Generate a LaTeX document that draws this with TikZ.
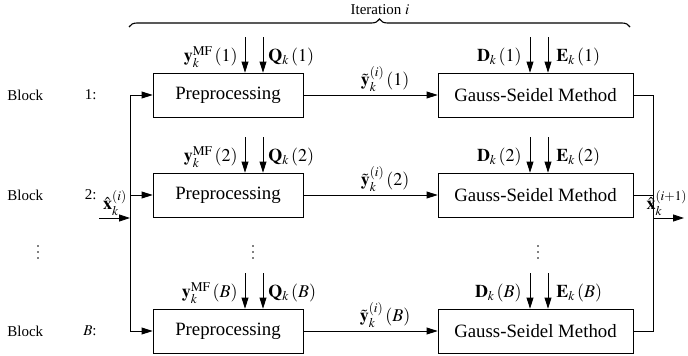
\documentclass[tikz,border=0pt]{standalone}
\usepackage{mathptmx}
\usepackage{fontspec}
\setmainfont{Liberation Serif}
\usetikzlibrary{arrows.meta,decorations.pathreplacing}
\begin{document}
\begin{tikzpicture}[x=1pt,y=-1pt,
  line width=0.8pt,
  box/.style={draw, line width=0.8pt, minimum height=44pt, inner sep=0pt,
    font=\fontsize{18.8}{22}\selectfont},
  pbox/.style={box, minimum width=150pt},
  gbox/.style={box, minimum width=195pt},
  arr/.style={-{Triangle[length=11pt,width=7pt]}, line width=0.8pt},
  lab/.style={inner sep=0pt, font=\fontsize{18}{21}\selectfont},
  small/.style={inner sep=0pt, font=\fontsize{15}{18}\selectfont},
  dot/.style={circle, fill, inner sep=0pt, minimum size=1.8pt}]
\useasboundingbox (0,0) rectangle (688,356);

% boxes
\node[pbox] (P1) at (228,95) {Preprocessing};
\node[pbox] (P2) at (228,195) {Preprocessing};
\node[pbox] (P3) at (228,331) {Preprocessing};
\node[gbox] (G1) at (535.5,95) {Gauss-Seidel Method};
\node[gbox] (G2) at (535.5,195) {Gauss-Seidel Method};
\node[gbox] (G3) at (535.5,331) {Gauss-Seidel Method};

% block labels
\node[small, anchor=west] (b1) at (7,95) {Block};
\node[small, anchor=west] (b2) at (7,195) {Block};
\node[small, anchor=west] (b3) at (7,331) {Block};
\node[small, anchor=east] (n1) at (97,95) {1:};
\node[small, anchor=east] (n2) at (97,195) {2:};
\node[small, anchor=east] (n3) at (97,331) {$B$:};

% vertical dots
\foreach \x/\n in {38/a,253/b,538/c}{
  \node[dot] (\n1) at (\x,246) {};
  \node[dot] (\n2) at (\x,252) {};
  \node[dot] (\n3) at (\x,258) {};
}

% brace
\coordinate (brL) at (129,27);
\coordinate (brR) at (630,27);
\draw[line width=1.1pt, decorate, decoration={brace, amplitude=8pt}] (brL) -- (brR);
\node[small] (it) at (380,10) {Iteration $i$};

% left distribution line
\coordinate (L1) at (130,95);
\coordinate (L2) at (130,195);
\coordinate (L3) at (130,331);
\coordinate (Lin) at (130,218);
\coordinate (in) at (99,218);
\draw (L1) -- (L3);
\draw[arr] (L1) -- (P1);
\draw[arr] (L2) -- (P2);
\draw[arr] (L3) -- (P3);
\draw[arr] (in) -- (Lin);
\node[lab] (xin) at (115,203) {$\hat{\mathbf{x}}_k^{(i)}$};

% right collection line
\coordinate (R1) at (653,95);
\coordinate (R2) at (653,195);
\coordinate (R3) at (653,331);
\coordinate (Rout) at (653,218);
\coordinate (out) at (684,218);
\draw (G1) -- (R1) -- (R3) -- (G3);
\draw (G2) -- (R2);
\draw[arr] (Rout) -- (out);
\node[lab, anchor=east] (xout) at (687.5,203) {$\hat{\mathbf{x}}_k^{(i+1)}$};

% middle connectors
\draw[arr] (P1) -- (G1);
\draw[arr] (P2) -- (G2);
\draw[arr] (P3) -- (G3);
\node[lab] (t1) at (385,79) {$\tilde{\mathbf{y}}_k^{(i)}\left(1\right)$};
\node[lab] (t2) at (385,179) {$\tilde{\mathbf{y}}_k^{(i)}\left(2\right)$};
\node[lab] (t3) at (385,315) {$\tilde{\mathbf{y}}_k^{(i)}\left(B\right)$};

% input arrows on top of boxes
\foreach \r/\yt in {1/37,2/137,3/273}{
  \coordinate (pa\r) at (245,\yt);
  \coordinate (pb\r) at (263,\yt);
  \coordinate (ga\r) at (530,\yt);
  \coordinate (gb\r) at (548,\yt);
  \draw[arr] (pa\r) -- (pa\r |- P\r.north);
  \draw[arr] (pb\r) -- (pb\r |- P\r.north);
  \draw[arr] (ga\r) -- (ga\r |- G\r.north);
  \draw[arr] (gb\r) -- (gb\r |- G\r.north);
}
\node[lab, anchor=east] (y1) at (238,57) {$\mathbf{y}_k^{\mathrm{MF}}\left(1\right)$};
\node[lab, anchor=west] (q1) at (268,57) {$\mathbf{Q}_k\left(1\right)$};
\node[lab, anchor=east] (dd1) at (522,57) {$\mathbf{D}_k\left(1\right)$};
\node[lab, anchor=west] (e1) at (556,57) {$\mathbf{E}_k\left(1\right)$};
\node[lab, anchor=east] (y2) at (238,157) {$\mathbf{y}_k^{\mathrm{MF}}\left(2\right)$};
\node[lab, anchor=west] (q2) at (268,157) {$\mathbf{Q}_k\left(2\right)$};
\node[lab, anchor=east] (dd2) at (522,157) {$\mathbf{D}_k\left(2\right)$};
\node[lab, anchor=west] (e2) at (556,157) {$\mathbf{E}_k\left(2\right)$};
\node[lab, anchor=east] (y3) at (238,293) {$\mathbf{y}_k^{\mathrm{MF}}\left(B\right)$};
\node[lab, anchor=west] (q3) at (268,293) {$\mathbf{Q}_k\left(B\right)$};
\node[lab, anchor=east] (dd3) at (522,293) {$\mathbf{D}_k\left(B\right)$};
\node[lab, anchor=west] (e3) at (556,293) {$\mathbf{E}_k\left(B\right)$};
\end{tikzpicture}
\end{document}
